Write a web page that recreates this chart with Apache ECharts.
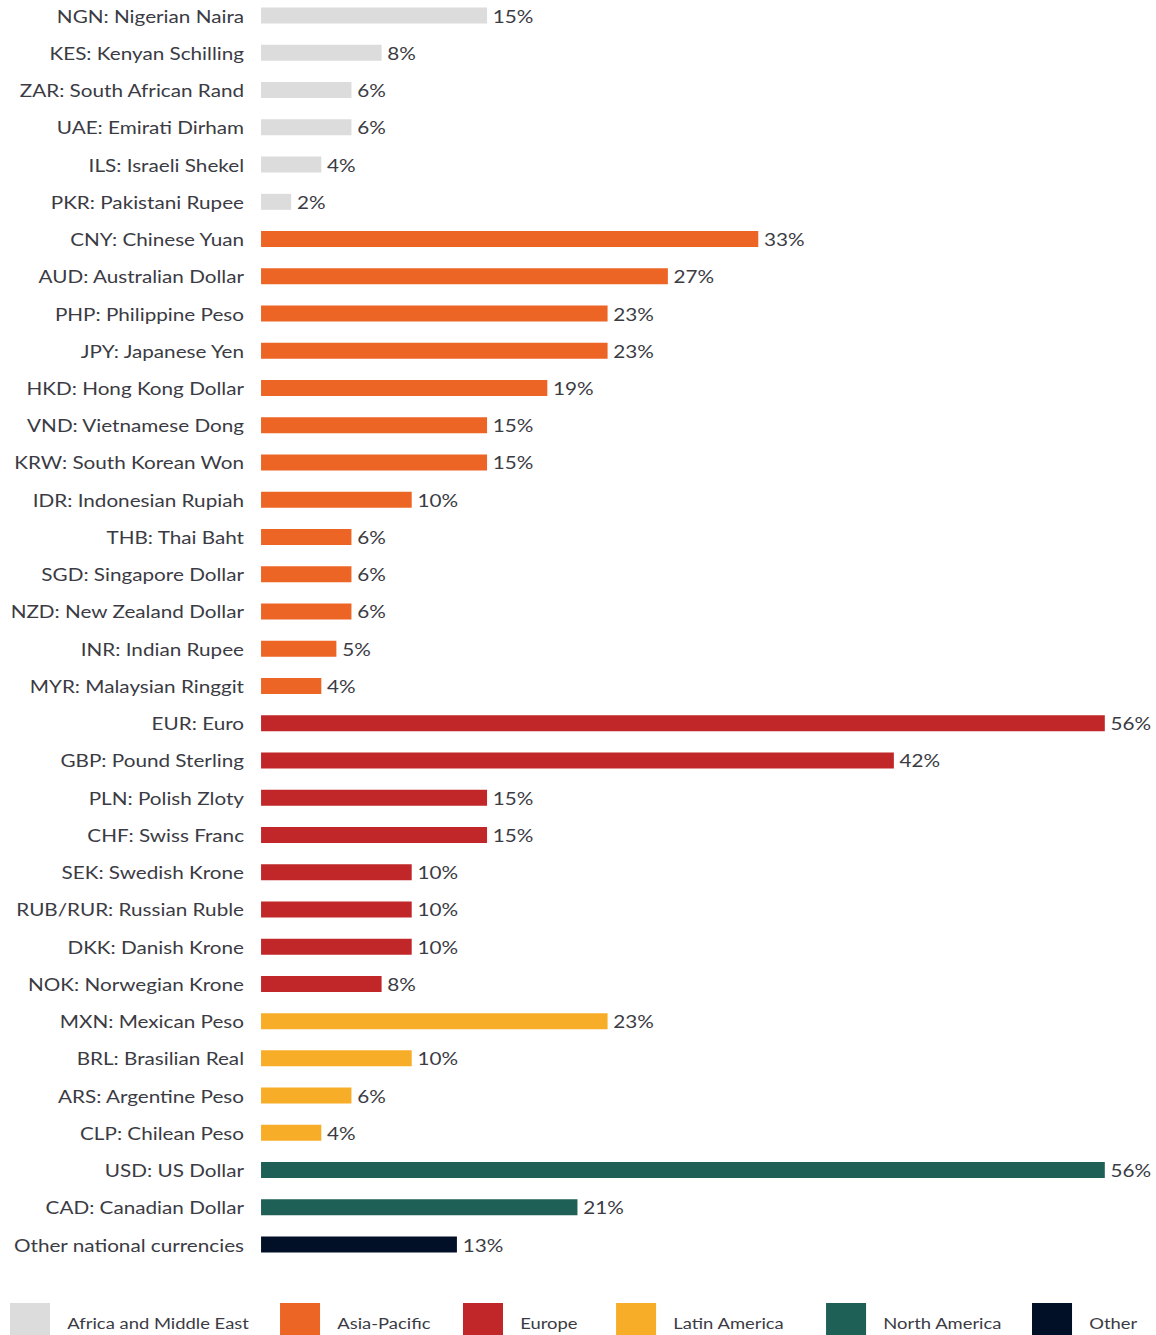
<!DOCTYPE html>
<html>
<head>
<meta charset="utf-8">
<script src="https://cdn.jsdelivr.net/npm/echarts@6/dist/echarts.min.js"></script>
<style>
  html, body { margin: 0; padding: 0; background: #fff; overflow: hidden; }
  /* the chart is laid out slightly narrower and widened to the page width;
     it starts a few pixels above the page top so the first row sits close to the edge */
  #chart {
    width: 1005.2px;
    height: 1340px;
    margin-top: -3.1px;
    transform: scaleX(1.15);
    transform-origin: 0 0;
  }
</style>
</head>
<body>
<div id="chart"></div>
<script>
// Currencies in display order (top to bottom)
const currencies = [
  'NGN: Nigerian Naira', 'KES: Kenyan Schilling', 'ZAR: South African Rand', 'UAE: Emirati Dirham',
  'ILS: Israeli Shekel', 'PKR: Pakistani Rupee',
  'CNY: Chinese Yuan', 'AUD: Australian Dollar', 'PHP: Philippine Peso', 'JPY: Japanese Yen',
  'HKD: Hong Kong Dollar', 'VND: Vietnamese Dong', 'KRW: South Korean Won', 'IDR: Indonesian Rupiah',
  'THB: Thai Baht', 'SGD: Singapore Dollar', 'NZD: New Zealand Dollar', 'INR: Indian Rupee',
  'MYR: Malaysian Ringgit',
  'EUR: Euro', 'GBP: Pound Sterling', 'PLN: Polish Zloty', 'CHF: Swiss Franc', 'SEK: Swedish Krone',
  'RUB/RUR: Russian Ruble', 'DKK: Danish Krone', 'NOK: Norwegian Krone',
  'MXN: Mexican Peso', 'BRL: Brasilian Real', 'ARS: Argentine Peso', 'CLP: Chilean Peso',
  'USD: US Dollar', 'CAD: Canadian Dollar',
  'Other national currencies'
];

// Share of respondents (%)
const shares = [
  15, 8, 6, 6, 4, 2,
  33, 27, 23, 23, 19, 15, 15, 10, 6, 6, 6, 5, 4,
  56, 42, 15, 15, 10, 10, 10, 8,
  23, 10, 6, 4,
  56, 21,
  13
];

const regionOf = [
  'Africa and Middle East', 'Africa and Middle East', 'Africa and Middle East', 'Africa and Middle East',
  'Africa and Middle East', 'Africa and Middle East',
  'Asia-Pacific', 'Asia-Pacific', 'Asia-Pacific', 'Asia-Pacific', 'Asia-Pacific', 'Asia-Pacific',
  'Asia-Pacific', 'Asia-Pacific', 'Asia-Pacific', 'Asia-Pacific', 'Asia-Pacific', 'Asia-Pacific',
  'Asia-Pacific',
  'Europe', 'Europe', 'Europe', 'Europe', 'Europe', 'Europe', 'Europe', 'Europe',
  'Latin America', 'Latin America', 'Latin America', 'Latin America',
  'North America', 'North America',
  'Other'
];

const regions = ['Africa and Middle East', 'Asia-Pacific', 'Europe', 'Latin America', 'North America', 'Other'];
const regionColors = ['#dddcdd', '#ec6525', '#c12729', '#f7ad28', '#1e5f56', '#021027'];
const legendLeft = [8.7, 243.5, 402.6, 535.7, 718.3, 897.4];

const FONT = 'Lato, "Noto Sans", sans-serif';
const TEXT = '#3b3b44';

const series = regions.map((r, i) => ({
  name: r,
  type: 'bar',
  stack: 'all',
  barWidth: 16,
  itemStyle: { color: regionColors[i] },
  label: {
    show: true,
    position: 'right',
    distance: 5,
    formatter: p => p.value + '%',
    color: TEXT,
    fontFamily: FONT,
    fontSize: 18
  },
  data: shares.map((v, k) => (regionOf[k] === r ? v : null))
}));

const legends = regions.map((r, i) => ({
  data: [r],
  left: legendLeft[i],
  top: 1306,
  padding: 0,
  icon: 'rect',
  itemWidth: 34.8,
  itemHeight: 40,
  selectedMode: false,
  textStyle: {
    color: TEXT,
    fontFamily: FONT,
    fontSize: 16,
    padding: [0, 0, 0, 10]
  }
}));

const chart = echarts.init(document.getElementById('chart'), null, { renderer: 'svg' });
chart.setOption({
  animation: false,
  backgroundColor: '#ffffff',
  legend: legends,
  grid: { left: 227, right: 44.3, top: 0, height: 1266.2, containLabel: false },
  xAxis: {
    type: 'value',
    min: 0,
    max: 56,
    show: false
  },
  yAxis: {
    type: 'category',
    inverse: true,
    data: currencies,
    axisLine: { show: false },
    axisTick: { show: false },
    axisLabel: {
      margin: 14.8,
      color: TEXT,
      fontFamily: FONT,
      fontSize: 18
    }
  },
  series: series
});
</script>
</body>
</html>
